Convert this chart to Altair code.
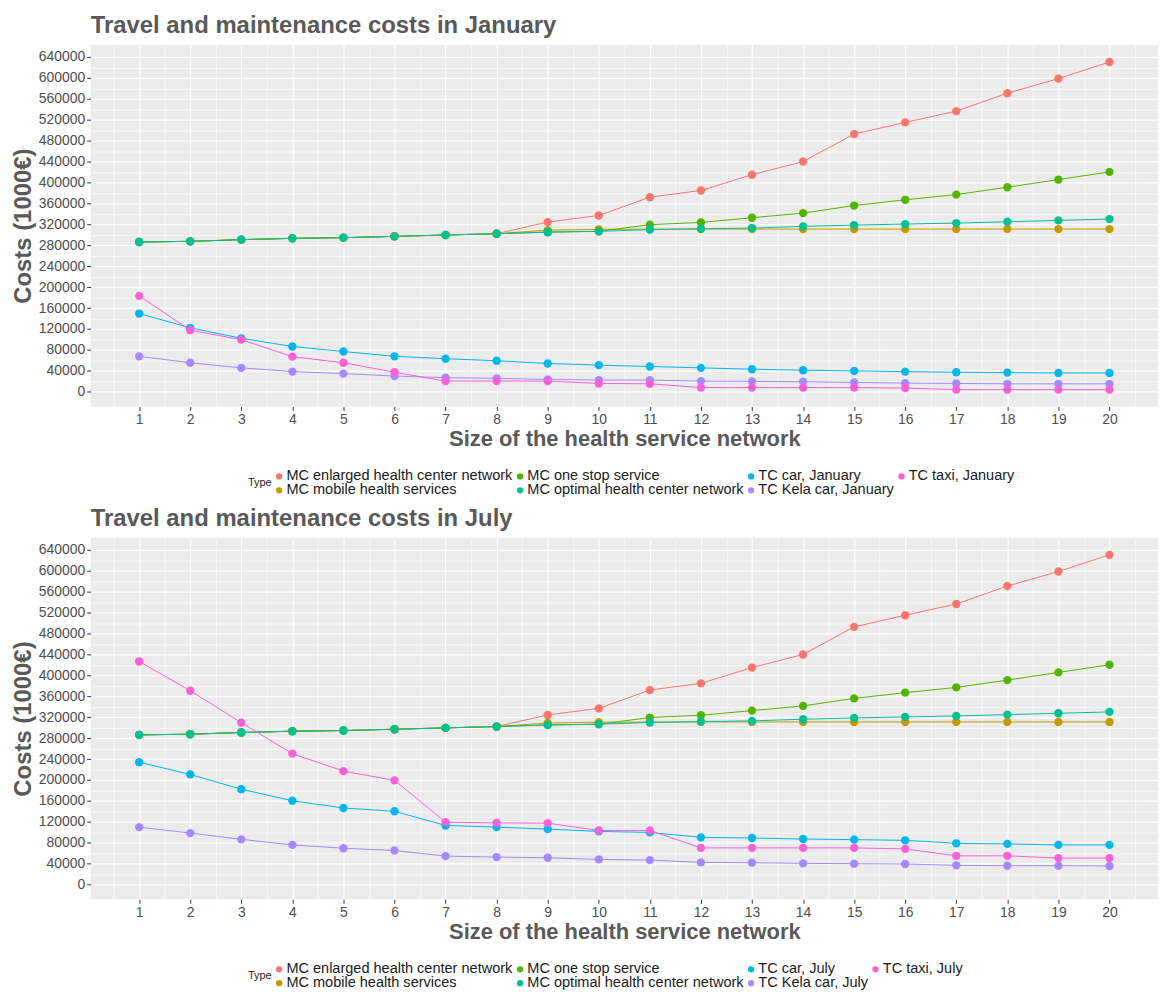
import altair as alt
import pandas as pd

sizes = list(range(1, 21))

mc_enlarged = [286300, 287600, 290800, 293300, 294600, 297100, 299700, 302200, 324400, 337000,
               372000, 384800, 415000, 440000, 492700, 515000, 536500, 570800, 598700, 630500]
mc_mobile = [286300, 287600, 290800, 293300, 294600, 297100, 299700, 302200, 309000, 310500,
             310800, 311000, 311000, 311000, 311000, 311000, 311000, 311000, 311000, 311000]
mc_one_stop = [286300, 287600, 290800, 293300, 294600, 297100, 299700, 302200, 305400, 306700,
               319400, 323800, 332700, 341600, 356000, 367000, 377000, 391000, 405700, 420300]
mc_optimal = [286300, 287600, 290800, 293300, 294600, 297100, 299700, 302200, 305000, 306700,
              310000, 311700, 313000, 316200, 318700, 320600, 322500, 325000, 327600, 330200]

car_jan = [149500, 122300, 102200, 86600, 76900, 67800, 63200, 59300, 54100, 50900,
           48300, 45700, 43100, 41200, 39900, 38600, 37300, 36600, 36000, 36000]
kela_jan = [67800, 55500, 45700, 38600, 34700, 30100, 26900, 25600, 23600, 22300,
            22300, 20400, 19800, 19100, 17800, 16500, 15900, 15200, 15200, 15200]
taxi_jan = [183300, 117700, 99600, 67100, 55500, 37300, 20400, 20400, 20400, 15900,
            15200, 8000, 8000, 8000, 8000, 7000, 4000, 4000, 4000, 4000]

car_jul = [234000, 210700, 182400, 160300, 146500, 140200, 113100, 110000, 106100, 101700,
           99800, 90400, 89100, 87200, 86000, 84700, 79000, 77800, 75900, 75900]
kela_jul = [109900, 98600, 86600, 75900, 69600, 65200, 54500, 52600, 51300, 48200,
            46900, 42500, 41900, 40600, 40000, 39400, 36900, 36200, 36200, 35600]
taxi_jul = [426500, 370700, 309600, 250400, 217000, 199400, 119400, 118100, 117500, 103600,
            103600, 70200, 70200, 70200, 70200, 68300, 55100, 55100, 50700, 50700]

mc_names = ["MC enlarged health center network", "MC mobile health services",
            "MC one stop service", "MC optimal health center network"]
colors = ["#F8766D", "#C49A00", "#53B400", "#00C094", "#00B6EB", "#A58AFF", "#FB61D7"]

x_grid = [v / 2 for v in range(1, 42)]
y_grid = list(range(0, 660000, 20000))

FONT = "Liberation Sans"
TXT = "#595959"


def panel(month, car, kela, taxi):
    names = mc_names + [f"TC car, {month}", f"TC Kela car, {month}", f"TC taxi, {month}"]
    series = [mc_enlarged, mc_mobile, mc_one_stop, mc_optimal, car, kela, taxi]
    rows = []
    for order, (name, vals) in enumerate(zip(names, series)):
        for s, v in zip(sizes, vals):
            rows.append({"type": name, "size": s, "cost": v, "ord": order})
    df = pd.DataFrame(rows)
    # row-major legend grid: this order reads column by column like the original
    legend_order = [0, 2, 4, 6, 1, 3, 5]
    dom = [names[i] for i in legend_order]
    rng = [colors[i] for i in legend_order]

    xaxis = alt.Axis(
        values=x_grid,
        labelExpr="datum.value % 1 === 0 ? '' + datum.value : ''",
        gridColor="white",
        gridWidth={"condition": {"test": "datum.value % 1 === 0", "value": 1.2}, "value": 0.6},
        tickOpacity={"condition": {"test": "datum.value % 1 === 0", "value": 1}, "value": 0},
        labelOverlap=False, labelFlush=False, domain=False,
        tickSize=4, tickColor="#333333", labelColor="#4d4d4d", labelFontSize=14,
        labelPadding=2, titleFontSize=22, titleFontWeight="bold", titleColor=TXT,
        titlePadding=2, labelFont=FONT, titleFont=FONT,
    )
    yaxis = alt.Axis(
        values=y_grid,
        labelExpr="datum.value % 40000 === 0 ? '' + datum.value : ''",
        gridColor="white",
        gridWidth={"condition": {"test": "datum.value % 40000 === 0", "value": 1.2}, "value": 0.6},
        tickOpacity={"condition": {"test": "datum.value % 40000 === 0", "value": 1}, "value": 0},
        labelOverlap=False, labelFlush=False, domain=False,
        tickSize=4, tickColor="#333333", labelColor="#4d4d4d", labelFontSize=14,
        labelPadding=2, titleFontSize=24, titleFontWeight="bold", titleColor=TXT,
        titlePadding=3, labelFont=FONT, titleFont=FONT,
    )
    x = alt.X("size:Q", scale=alt.Scale(domain=[0.05, 20.95], nice=False, zero=False),
              axis=xaxis, title="Size of the health service network")
    y = alt.Y("cost:Q", scale=alt.Scale(domain=[-28000, 663000], nice=False, zero=False),
              axis=yaxis, title="Costs (1000€)")
    cscale = alt.Scale(domain=dom, range=rng)
    legend = alt.Legend(
        title="Type", orient="none", legendX=158, legendY=426, direction="horizontal",
        columns=4, columnPadding=-4, rowPadding=-5, titleOrient="left",
        titleFontSize=11, titleFontWeight="normal", titleColor="#1a1a1a",
        titleFont=FONT, labelFont=FONT, labelFontSize=14.6, labelColor="#1a1a1a",
        labelLimit=500, symbolType="circle", symbolSize=40, symbolStrokeWidth=0,
        labelOffset=0, titlePadding=0, titleBaseline="middle", titleAnchor="middle",
    )

    lines = alt.Chart(df).mark_line(strokeWidth=1).encode(
        x=x, y=y,
        color=alt.Color("type:N", scale=cscale, legend=legend),
        order=alt.Order("size:Q"),
    )
    points = alt.Chart(df).mark_circle(size=70, opacity=1).encode(
        x=x, y=y,
        color=alt.Color("type:N", scale=cscale, legend=legend),
        order=alt.Order("ord:Q"),
    )
    return alt.layer(lines, points).properties(
        width=1072, height=363,
        title=alt.TitleParams(f"Travel and maintenance costs in {month}", anchor="start",
                              frame="group", fontSize=24, fontWeight="bold", color=TXT,
                              font=FONT, offset=7),
    )


chart = alt.vconcat(
    panel("January", car_jan, kela_jan, taxi_jan),
    panel("July", car_jul, kela_jul, taxi_jul),
    spacing=10,
).resolve_scale(color="independent").resolve_legend(color="independent").properties(
    padding={"left": 3, "top": 4, "right": 0, "bottom": 0},
).configure_view(
    fill="#EBEBEB", stroke=None,
)

chart.save("out.html", embed_options={"renderer": "svg", "actions": False})
